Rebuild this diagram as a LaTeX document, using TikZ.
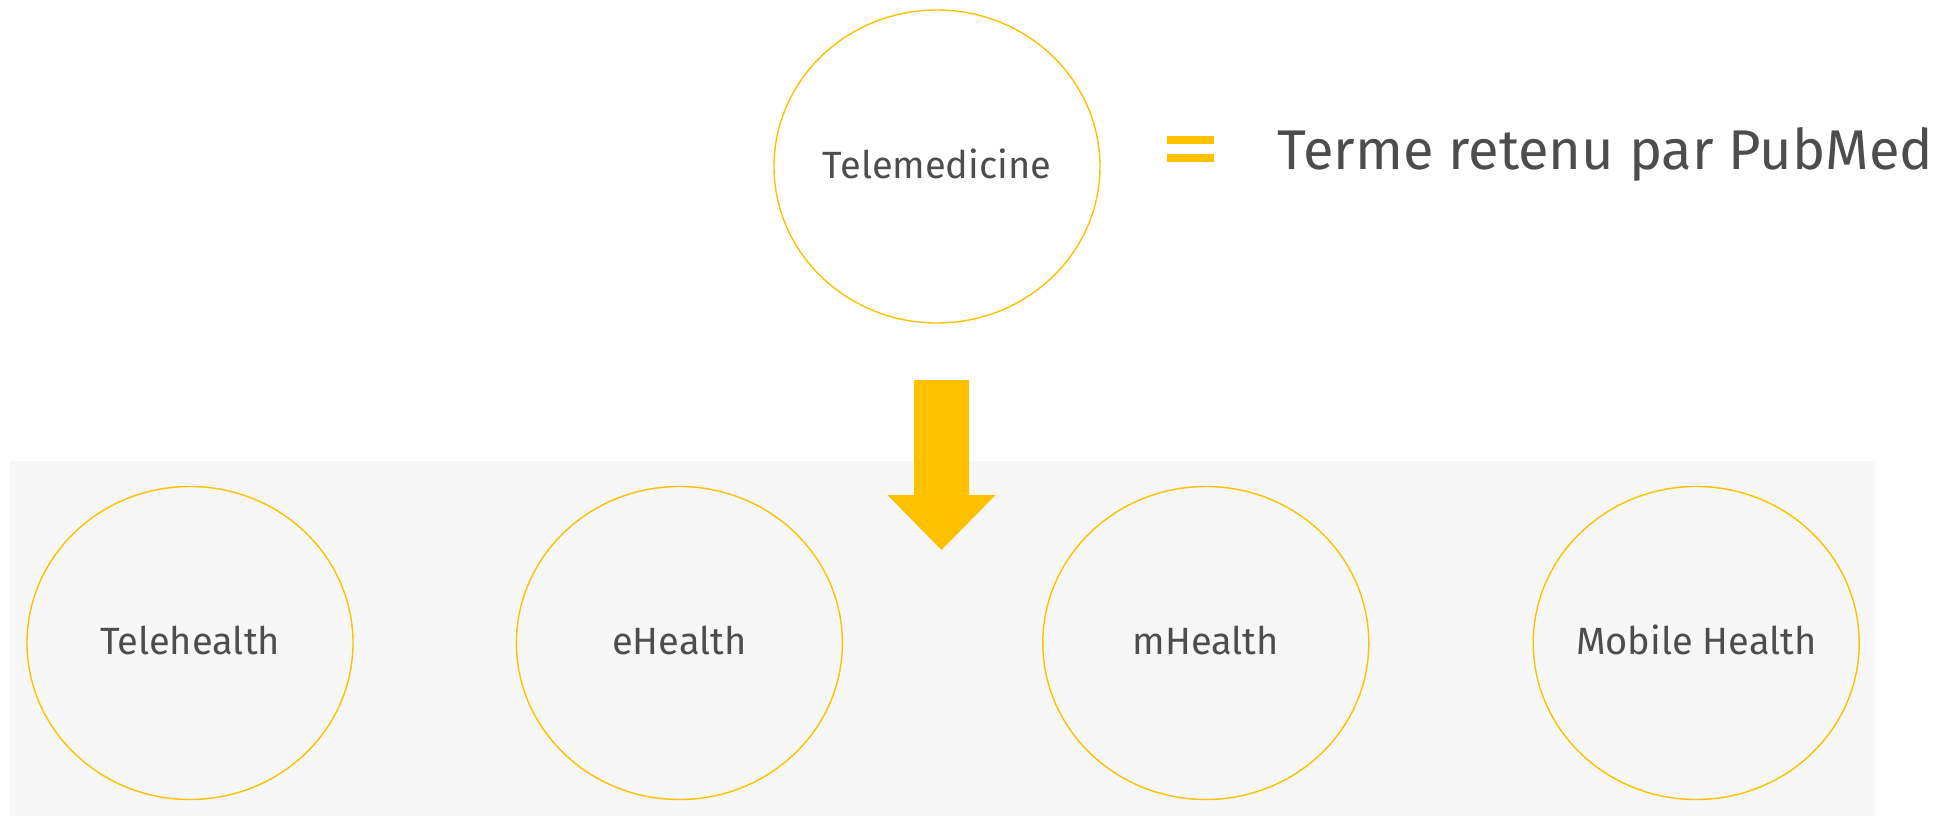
\documentclass[tikz,border=0pt]{standalone}
\usepackage{fontspec}
\setmainfont{Fira Sans}
\usetikzlibrary{positioning, shapes.geometric}

\definecolor{gold}{HTML}{FFC000}
\definecolor{ink}{HTML}{4D4D4D}
\definecolor{paper}{HTML}{F7F7F7}

\begin{document}
\begin{tikzpicture}[x=1pt,y=-1pt]
\tikzset{
    bubble/.style={ellipse,draw=gold,line width=1.4pt,minimum width=326pt,minimum height=313pt,
      inner sep=0pt,label={[tag]center:#1}},
    tag/.style={text=ink,font=\fontsize{38}{40}\selectfont,yshift=3pt},
    bar/.style={fill=gold},
  }
\useasboundingbox (0,0) rectangle (1947,816);
% grey band behind the term list
\fill[paper] (10,461) rectangle (1875,816);

\node (telemedicine) [bubble=Telemedicine] at (937,166.5) {};
\node (telehealth) [bubble=Telehealth] at (190,643) {};
\node (ehealth) [bubble=eHealth, right=162pt of telehealth] {};
\node (mhealth) [bubble=mHealth, right=199pt of ehealth] {};
\node (mobile_health) [bubble=Mobile Health, right=163pt of mhealth] {};

% equals sign and note
\fill[bar] (1167,136) rectangle (1214,144);
\fill[bar] (1167,153.5) rectangle (1214,161.5);
\node (pubmed_note) [anchor=base west,inner sep=0pt,text=ink,font=\fontsize{56}{60}\selectfont]
  at (1277,169) {Terme retenu par PubMed};

% block arrow down to the list
\coordinate (arrow_top) at (941.5,380);
\fill[gold] (arrow_top) ++(-27.5,0) -- ++(55,0) -- ++(0,115) -- ++(26.5,0)
  -- ++(-54,55) -- ++(-54,-55) -- ++(26.5,0) -- cycle;
\end{tikzpicture}
\end{document}
